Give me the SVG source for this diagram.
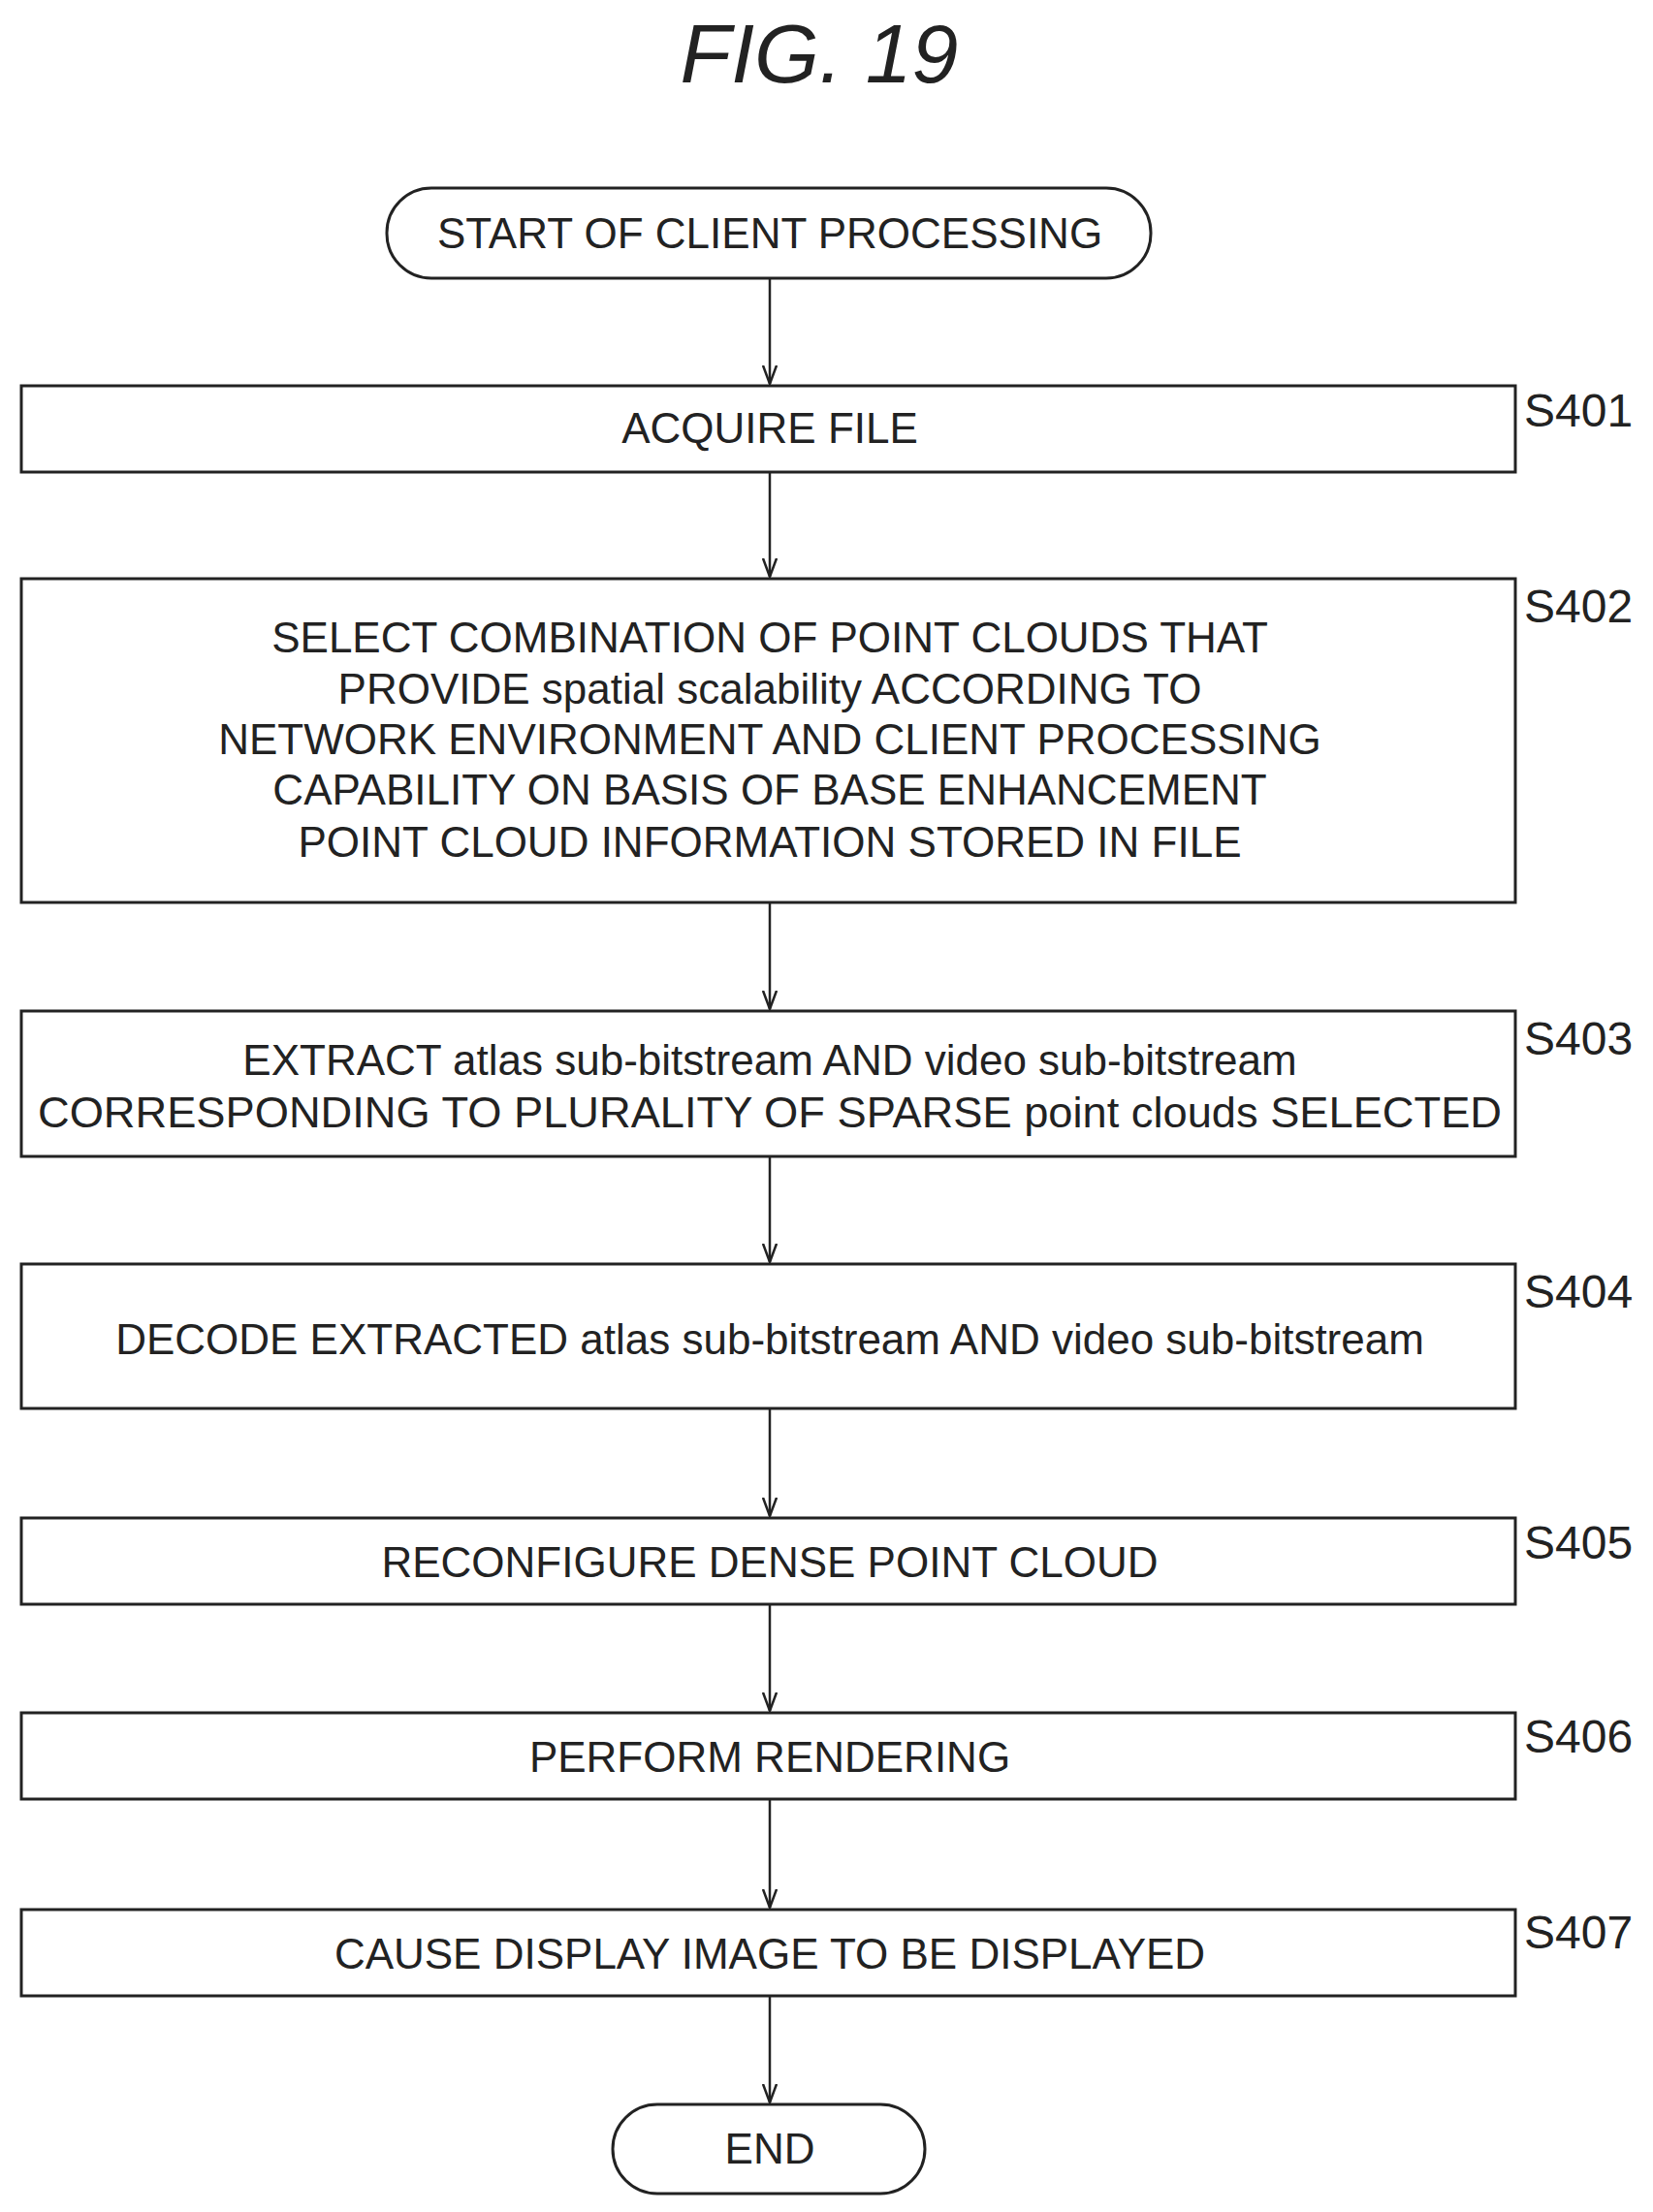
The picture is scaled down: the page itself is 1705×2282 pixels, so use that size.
<svg xmlns="http://www.w3.org/2000/svg" width="1705" height="2282" viewBox="0 0 1705 2282">
<style>
.b{fill:#fff;stroke:#222;stroke-width:3}
.t{font-family:"Liberation Sans",Arial,sans-serif;font-size:44px;fill:#222;text-anchor:middle}
.l{font-family:"Liberation Sans",Arial,sans-serif;font-size:48px;fill:#222}
.c{stroke:#222;stroke-width:2.5;fill:none;marker-end:url(#a)}
</style>
<defs><marker id="a" markerWidth="20" markerHeight="16" refX="19" refY="8" orient="auto" markerUnits="userSpaceOnUse"><path d="M0,1 L19,8 L0,15" fill="none" stroke="#222" stroke-width="2.5"/></marker></defs>
<rect width="1705" height="2282" fill="#fff"/>
<text x="845" y="85" style="font-family:'Liberation Sans',Arial,sans-serif;font-size:86px;font-style:italic;fill:#222;text-anchor:middle">FIG. 19</text>
<g id="connectors">
<path class="c" d="M794 287V396"/>
<path class="c" d="M794 487V595"/>
<path class="c" d="M794 931V1041"/>
<path class="c" d="M794 1193V1302"/>
<path class="c" d="M794 1453V1564"/>
<path class="c" d="M794 1655V1765"/>
<path class="c" d="M794 1856V1968"/>
<path class="c" d="M794 2059V2169"/>
</g>
<g id="start"><rect class="b" x="399" y="194" width="788" height="93" rx="46"/><text class="t" x="794" y="256">START OF CLIENT PROCESSING</text></g>
<g id="s401"><rect class="b" x="22" y="398" width="1541" height="89"/><text class="t" x="794" y="457">ACQUIRE FILE</text><text class="l" x="1572" y="440">S401</text></g>
<g id="s402"><rect class="b" x="22" y="597" width="1541" height="334"/>
<text class="t" x="794" y="673">SELECT COMBINATION OF POINT CLOUDS THAT</text>
<text class="t" x="794" y="726">PROVIDE spatial scalability ACCORDING TO</text>
<text class="t" x="794" y="778">NETWORK ENVIRONMENT AND CLIENT PROCESSING</text>
<text class="t" x="794" y="830">CAPABILITY ON BASIS OF BASE ENHANCEMENT</text>
<text class="t" x="794" y="884">POINT CLOUD INFORMATION STORED IN FILE</text>
<text class="l" x="1572" y="642">S402</text></g>
<g id="s403"><rect class="b" x="22" y="1043" width="1541" height="150"/>
<text class="t" x="794" y="1109">EXTRACT atlas sub-bitstream AND video sub-bitstream</text>
<text class="t" x="794" y="1163" textLength="1510" lengthAdjust="spacingAndGlyphs">CORRESPONDING TO PLURALITY OF SPARSE point clouds SELECTED</text>
<text class="l" x="1572" y="1088">S403</text></g>
<g id="s404"><rect class="b" x="22" y="1304" width="1541" height="149"/><text class="t" x="794" y="1397">DECODE EXTRACTED atlas sub-bitstream AND video sub-bitstream</text><text class="l" x="1572" y="1349">S404</text></g>
<g id="s405"><rect class="b" x="22" y="1566" width="1541" height="89"/><text class="t" x="794" y="1627">RECONFIGURE DENSE POINT CLOUD</text><text class="l" x="1572" y="1608">S405</text></g>
<g id="s406"><rect class="b" x="22" y="1767" width="1541" height="89"/><text class="t" x="794" y="1828">PERFORM RENDERING</text><text class="l" x="1572" y="1808">S406</text></g>
<g id="s407"><rect class="b" x="22" y="1970" width="1541" height="89"/><text class="t" x="794" y="2031">CAUSE DISPLAY IMAGE TO BE DISPLAYED</text><text class="l" x="1572" y="2010">S407</text></g>
<g id="end"><rect class="b" x="632" y="2171" width="322" height="92" rx="46"/><text class="t" x="794" y="2232">END</text></g>
</svg>
